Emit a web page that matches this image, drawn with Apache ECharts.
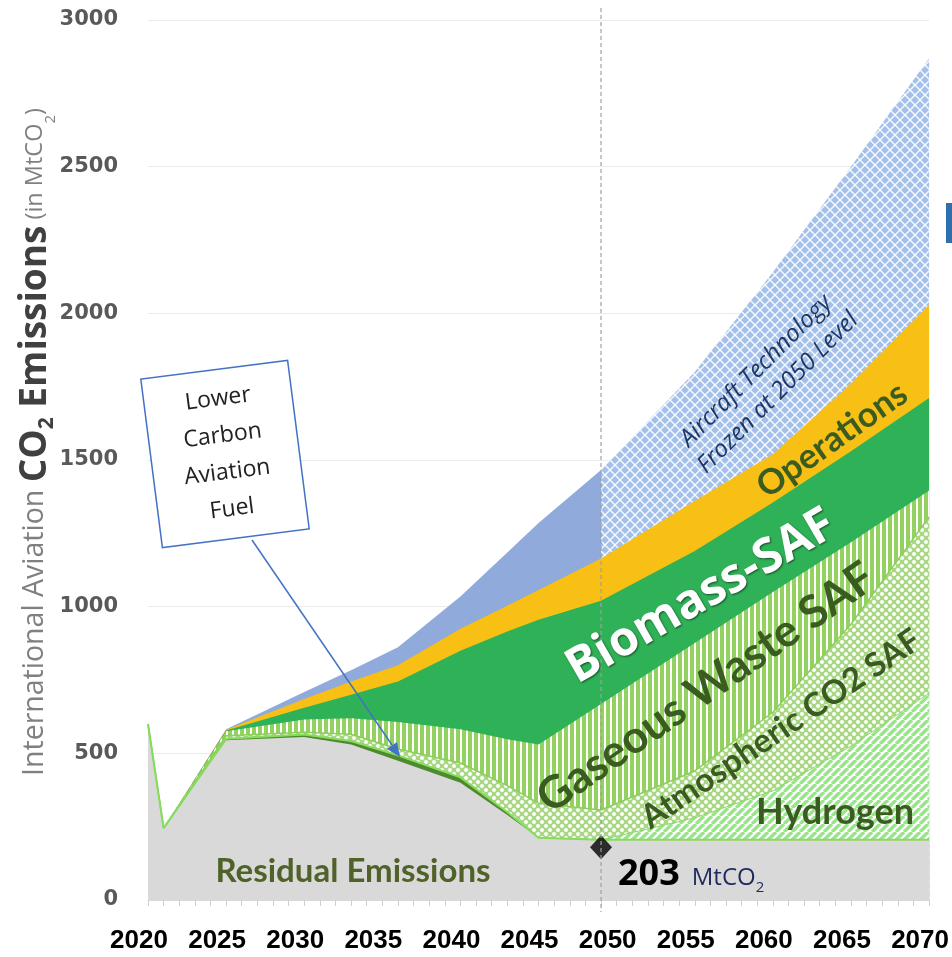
<!DOCTYPE html>
<html><head><meta charset="utf-8">
<script src="https://cdn.jsdelivr.net/npm/echarts@6/dist/echarts.min.js"></script>
<style>html,body{margin:0;padding:0;background:#fff}#c{width:952px;height:957px}</style>
</head><body><div id="c"></div>
<script>
// ---- data (MtCO2 per layer) ----
const years       = [2020, 2021, 2025, 2030, 2033, 2036, 2040, 2043, 2045, 2049, 2055, 2060, 2065, 2070];
const residual    = [600, 245, 545, 556, 530, 475, 400, 290, 212, 205, 205, 205, 205, 205];
const lcaf        = [0, 0, 5, 8, 12, 18, 18, 10, 0, 0, 0, 0, 0, 0];
const hydrogen    = [0, 0, 0, 0, 0, 0, 0, 0, 0, 0, 75, 167, 320, 500];
const atmospheric = [0, 0, 10, 8, 23, 22, 49, 90, 118, 102, 160, 268, 415, 601];
const gaseous     = [0, 0, 15, 43, 55, 92, 115, 158, 200, 361, 436, 410, 280, 90];
const biomass     = [0, 0, 3, 40, 80, 138, 268, 367, 425, 352, 314, 305, 310, 315];
const operations  = [0, 0, 2, 30, 45, 55, 75, 88, 102, 144, 170, 165, 230, 317];
const aircraft    = [0, 0, 2, 24, 38, 62, 110, 182, 228, 302, 440, 620, 740, 842];
const frozenYear  = 2049;
const residualMark = [2049, 180];
const xTicks = [2020, 2070, 5];
const yTicks = [0, 3000, 500];

// ---- cumulative stack (each layer drawn as an area down to 0, top layer first) ----
const layers = [residual, lcaf, hydrogen, atmospheric, gaseous, biomass, operations, aircraft];
const cum = [];
let run = years.map(() => 0);
layers.forEach(l => { run = run.map((v, i) => v + l[i]); cum.push(run); });
const splitIdx = years.indexOf(frozenYear);
function pts(k, from, to){
  const a = cum[k];
  return years.map((x, i) => [x, a[i]]).slice(from || 0, to === undefined ? years.length : to);
}

function tile(w, h, draw){
  const c = document.createElement('canvas'); c.width = w; c.height = h;
  draw(c.getContext('2d'), w, h); return { image: c, repeat: 'repeat' };
}
const stripesV = tile(6, 6, g => { g.fillStyle = '#fff'; g.fillRect(0,0,6,6); g.fillStyle = '#93d160'; g.fillRect(0,0,4,6); });
const dots = tile(8, 8, g => { g.fillStyle = '#a9d884'; g.fillRect(0,0,8,8); g.fillStyle = '#fff';
  [[2,2],[6,6]].forEach(([x,y]) => { g.beginPath(); g.arc(x,y,2.0,0,Math.PI*2); g.fill(); }); });
const diag = tile(8, 8, g => { g.fillStyle = '#fff'; g.fillRect(0,0,8,8); g.strokeStyle = '#97e688'; g.lineWidth = 3.4;
  [-8,0,8].forEach(o => { g.beginPath(); g.moveTo(o,8); g.lineTo(o+8,0); g.stroke(); }); });
const cross = tile(10, 10, g => { g.fillStyle = '#a3c0ea'; g.fillRect(0,0,10,10); g.strokeStyle = 'rgba(255,255,255,0.9)'; g.lineWidth = 1.4;
  [-10,0,10].forEach(o => { g.beginPath(); g.moveTo(o,0); g.lineTo(o+10,10); g.stroke(); g.beginPath(); g.moveTo(o,10); g.lineTo(o+10,0); g.stroke(); }); });

function area(name, data, color, line){
  return { name, type: 'line', data, symbol: 'none', smooth: false, silent: true,
    lineStyle: line || { width: 0 }, areaStyle: { color, opacity: 1, origin: 'start' }, emphasis: { disabled: true } };
}

const chart = echarts.init(document.getElementById('c'), null, { renderer: 'canvas' });
const darkGreen = '#3b5c20';
chart.setOption({
  animation: false,
  backgroundColor: '#fff',
  grid: { left: 148, right: 22, top: 20, bottom: 57 },
  xAxis: {
    type: 'value', min: xTicks[0], max: xTicks[1], interval: xTicks[2],
    axisLine: { show: true, lineStyle: { color: '#d9d9d9', width: 1 } },
    axisTick: { show: true, length: 6, lineStyle: { color: '#d0d0d0' } },
    minorTick: { show: true, splitNumber: 5, length: 6, lineStyle: { color: '#d0d0d0' } },
    splitLine: { show: false },
    axisLabel: { margin: 28, padding: [0, 18, 0, 0], formatter: v => String(v), fontFamily: 'Liberation Sans', fontWeight: 'bold', fontSize: 26, color: '#000' }
  },
  yAxis: {
    type: 'value', min: yTicks[0], max: yTicks[1], interval: yTicks[2],
    axisLine: { show: false }, axisTick: { show: false },
    splitLine: { lineStyle: { color: '#ebebeb', width: 1 } },
    axisLabel: { margin: 30, formatter: v => String(v), fontFamily: 'DejaVu Sans', fontWeight: 'bold', fontSize: 21, color: '#595959' }
  },
  series: [
    area('Aircraft Technology Frozen at 2050 Level', pts(7, splitIdx), cross),
    area('Aircraft Technology', pts(7, 0, splitIdx + 1), '#8faadb'),
    area('Operations', pts(6), '#f8bf14'),
    area('Biomass-SAF', pts(5), '#2fb157'),
    area('Gaseous Waste SAF', pts(4), stripesV),
    area('Atmospheric CO2 SAF', pts(3), dots, { width: 1.5, color: '#8ccf58' }),
    area('Hydrogen', pts(2), diag, { width: 1, color: '#8fd86a' }),
    area('Lower Carbon Aviation Fuel', pts(1), '#4e8a2e', { width: 2, color: '#86dc5e' }),
    area('Residual Emissions', pts(0), '#d9d9d9'),
    { type: 'scatter', data: [residualMark], symbol: 'diamond', symbolSize: [22, 24], itemStyle: { color: '#000' }, z: 10, silent: true }
  ]
});

const pTop = chart.convertToPixel({ gridIndex: 0 }, [frozenYear, yTicks[1]]);
const pBot = chart.convertToPixel({ gridIndex: 0 }, [frozenYear, yTicks[0]]);
const deg = Math.PI / 180;
function label(x, y, text, size, color, rot, extra){
  return { type: 'text', x, y, rotation: (rot || 0) * deg, z: 100, silent: true,
    style: Object.assign({ text, fontFamily: 'Lato', fontWeight: 'bold', fontSize: size, fill: color, align: 'center', verticalAlign: 'middle' }, extra || {}) };
}
chart.setOption({
  graphic: [
    { type: 'line', z: 50, silent: true, shape: { x1: pTop[0], y1: pTop[1] - 12, x2: pBot[0], y2: pBot[1] + 12 },
      style: { stroke: '#a0a0a0', lineWidth: 1.2, lineDash: [4, 3] } },
    { type: 'text', x: 35, y: 442, rotation: 90 * deg, z: 100, silent: true,
      style: { text: '{a|International Aviation }{b|CO}{bs|2}{b| Emissions}{c| (in MtCO}{cs|2}{c|)}',
        align: 'center', verticalAlign: 'middle',
        rich: {
          a: { fontFamily: 'Open Sans', fontSize: 28.5, fill: '#808080', lineHeight: 46, verticalAlign: 'middle' },
          b: { fontFamily: 'Open Sans', fontSize: 37, fontWeight: 'bold', fill: '#404040', lineHeight: 46, verticalAlign: 'middle' },
          bs: { fontFamily: 'Open Sans', fontSize: 21, fontWeight: 'bold', fill: '#404040', lineHeight: 25, verticalAlign: 'bottom' },
          c: { fontFamily: 'Open Sans', fontSize: 23.5, fill: '#808080', lineHeight: 46, verticalAlign: 'middle' },
          cs: { fontFamily: 'Open Sans', fontSize: 15, fill: '#808080', lineHeight: 25, verticalAlign: 'bottom' }
        } } },
    label(353, 871, 'Residual Emissions', 33, '#4f6228'),
    label(701, 597, 'Biomass-SAF', 48, '#fff', 30, { fontFamily: 'Open Sans', textShadowColor: 'rgba(0,0,0,0.55)', textShadowBlur: 2, textShadowOffsetX: 1, textShadowOffsetY: 1 }),
    label(706, 688, 'Gaseous Waste SAF', 45, darkGreen, 35),
    label(781, 729, 'Atmospheric CO2 SAF', 33, darkGreen, 34),
    label(832, 440, 'Operations', 35, darkGreen, 35),
    label(835, 812, 'Hydrogen', 36, darkGreen, 0),
    label(767, 382, 'Aircraft Technology\nFrozen at 2050 Level', 24, '#1f3864', 45, { fontFamily: 'Open Sans', fontWeight: 'normal', fontStyle: 'italic', lineHeight: 31 }),
    { type: 'text', x: 618, y: 875, z: 100, silent: true,
      style: { text: '{a|203}{b|MtCO}{s|2}', align: 'left', verticalAlign: 'middle',
        rich: {
          a: { fontFamily: 'Open Sans', fontWeight: 'bold', fontSize: 36, fill: '#000', lineHeight: 40, verticalAlign: 'middle' },
          b: { fontFamily: 'Open Sans', fontSize: 24, fill: '#1f2a5c', lineHeight: 40, verticalAlign: 'middle', padding: [6, 0, 0, 12] },
          s: { fontFamily: 'Open Sans', fontSize: 15, fill: '#1f2a5c', lineHeight: 22, verticalAlign: 'bottom' }
        } } },
    { type: 'group', x: 225, y: 454, rotation: 7.3 * deg, z: 100, silent: true, children: [
      { type: 'rect', shape: { x: -74, y: -85, width: 148, height: 170 }, style: { fill: '#fff', stroke: '#4472c4', lineWidth: 1.5 } },
      { type: 'text', x: 0, y: 0, style: { text: 'Lower\nCarbon\nAviation\nFuel', fontFamily: 'Open Sans', fontSize: 23, lineHeight: 37, fill: '#222', align: 'center', verticalAlign: 'middle' } }
    ] },
    { type: 'line', z: 100, silent: true, shape: { x1: 252, y1: 540, x2: 392, y2: 745 }, style: { stroke: '#4472c4', lineWidth: 1.5 } },
    { type: 'polygon', z: 100, silent: true, shape: { points: [[400, 757], [387, 749], [397, 742]] }, style: { fill: '#4472c4' } },
    { type: 'rect', z: 100, silent: true, shape: { x: 946, y: 203, width: 6, height: 40 }, style: { fill: '#2e6fae' } }
  ]
});
</script></body></html>
